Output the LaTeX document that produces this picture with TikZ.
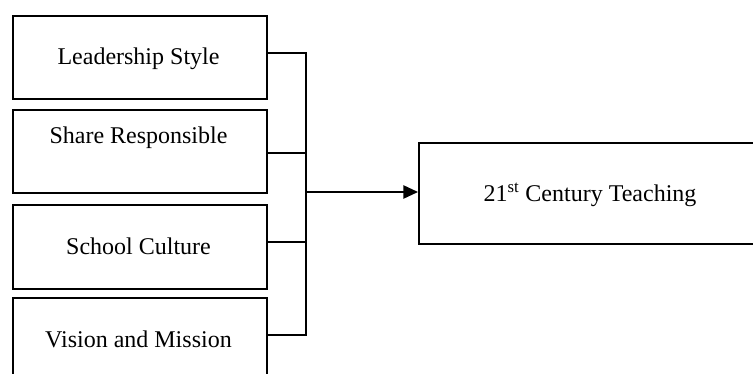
\documentclass[tikz,border=0pt]{standalone}
\usepackage{fontspec}
\setmainfont{Liberation Serif}
\usetikzlibrary{arrows.meta}
\begin{document}
\begin{tikzpicture}[x=0.75pt,y=-0.75pt,
  factor/.style={draw=black,line width=1.5pt,rectangle,inner sep=0pt},
  caption/.style={anchor=base,inner sep=0pt,font=\fontsize{18pt}{21pt}\selectfont},
  link/.style={line width=1pt},
  feed/.style={line width=1.2pt,-{Triangle[length=11pt,width=10pt]}}]
\useasboundingbox (0,0) rectangle (753,374);
\clip (0,0) rectangle (753,374);
% factor boxes on the left
\node[factor,minimum width=253.5pt*0.75,minimum height=83pt*0.75,anchor=north west] (lead) at (12,15) {};
\node[factor,minimum width=253.5pt*0.75,minimum height=83pt*0.75,anchor=north west] (share) at (12,109) {};
\node[factor,minimum width=253.5pt*0.75,minimum height=84pt*0.75,anchor=north west] (culture) at (12,204) {};
\node[factor,minimum width=253.5pt*0.75,minimum height=120pt*0.75,anchor=north west] (vision) at (12,297) {};
% outcome box on the right, running past the edge
\node[factor,minimum width=420pt*0.75,minimum height=101pt*0.75,anchor=north west] (teach) at (418,142) {};
% box captions
\node[caption] (tlead) at (138.5,65) {Leadership Style};
\node[caption] (tshare) at (138.5,144) {Share Responsible};
\node[caption] (tculture) at (138.5,254.3) {School Culture};
\node[caption] (tvision) at (138.5,347) {Vision and Mission};
\node[caption] (tteach) at (590,201) {21\textsuperscript{st} Century Teaching};
% bracket joining the factors
\coordinate (b1) at (306,53);
\coordinate (b2) at (306,153);
\coordinate (b3) at (306,242);
\coordinate (b4) at (306,335);
\coordinate (mid) at (306,192);
\draw[link] (lead.east |- b1) -- (b1) -- (b4) -- (vision.east |- b4);
\draw[link] (share.east |- b2) -- (b2);
\draw[link] (culture.east |- b3) -- (b3);
\draw[feed] (mid) -- (teach.west |- mid);
\end{tikzpicture}
\end{document}
